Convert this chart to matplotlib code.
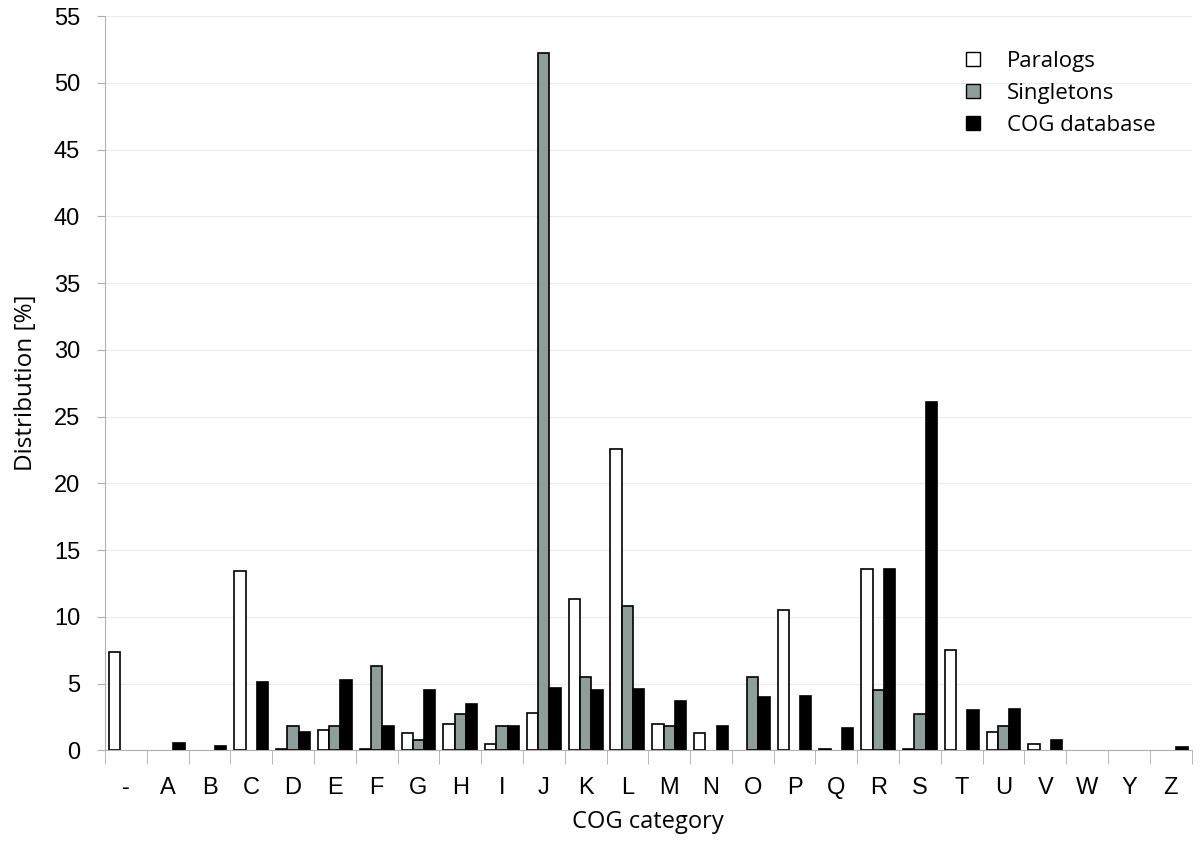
import matplotlib
matplotlib.use("Agg")
import matplotlib.pyplot as plt
import numpy as np
from matplotlib.lines import Line2D

categories = ["-", "A", "B", "C", "D", "E", "F", "G", "H", "I", "J", "K", "L",
              "M", "N", "O", "P", "Q", "R", "S", "T", "U", "V", "W", "Y", "Z"]
paralogs = [7.4, 0, 0, 13.4, 0.1, 1.5, 0.1, 1.3, 2.0, 0.5, 2.8, 11.3, 22.6,
            2.0, 1.3, 0, 10.5, 0.1, 13.6, 0.1, 7.5, 1.4, 0.5, 0, 0, 0]
singletons = [0, 0, 0, 0, 1.8, 1.8, 6.3, 0.8, 2.7, 1.8, 52.2, 5.5, 10.8,
              1.8, 0, 5.5, 0, 0, 4.5, 2.7, 0, 1.8, 0, 0, 0, 0]
cog_db = [0, 0.55, 0.35, 5.1, 1.4, 5.3, 1.8, 4.5, 3.5, 1.8, 4.7, 4.5, 4.6,
          3.7, 1.8, 4.0, 4.1, 1.7, 13.6, 26.1, 3.0, 3.1, 0.8, 0, 0, 0.25]
series_names = ["Paralogs", "Singletons", "COG database"]
colors = ["white", "#8e9e9b", "black"]

fig = plt.figure(figsize=(12, 8.44), dpi=100)
ax = fig.add_axes([0.0875, 0.111, 0.9055, 0.870])

x = np.arange(len(categories))
w = 0.27
for i, (vals, c) in enumerate(zip([paralogs, singletons, cog_db], colors)):
    vals = np.asarray(vals, dtype=float)
    keep = vals > 0
    ax.bar(x[keep] + (i - 1) * w, vals[keep], width=w, color=c, edgecolor="black",
           linewidth=1.2, zorder=3)

ax.set_xlim(-0.5, len(categories) - 0.5)
ax.set_ylim(0, 55)
ax.set_yticks(np.arange(0, 56, 5))
ax.yaxis.grid(True, color="#ececec", linewidth=0.8, zorder=0)

ax.set_xticks(x)
ax.set_xticklabels(categories, fontsize=17, fontfamily="Liberation Sans")
ax.set_xticks(np.arange(-0.5, len(categories), 1), minor=True)
ax.tick_params(axis="x", which="major", length=0, pad=19)
ax.tick_params(axis="x", which="minor", length=10, color="#b0b0b0")
ax.tick_params(axis="y", length=6, color="#b0b0b0", labelsize=17, pad=12)
for lab in ax.get_yticklabels():
    lab.set_fontfamily("Liberation Sans")

for s in ["top", "right"]:
    ax.spines[s].set_visible(False)
for s in ["left", "bottom"]:
    ax.spines[s].set_color("#b0b0b0")

ax.set_xlabel("COG category", fontsize=17, fontfamily="Open Sans", labelpad=8)
ax.set_ylabel("Distribution [%]", fontsize=17.5, fontfamily="Open Sans", labelpad=11)

handles = [Line2D([], [], marker="s", linestyle="none", markersize=10,
                  markerfacecolor=c, markeredgecolor="black", markeredgewidth=1)
           for c in colors]
ax.legend(handles, series_names, loc="upper right", bbox_to_anchor=(0.985, 0.98),
          frameon=False, prop={"family": "Open Sans", "size": 16},
          handletextpad=0.5, labelspacing=0.5)

fig.savefig("out.png", dpi=100)
